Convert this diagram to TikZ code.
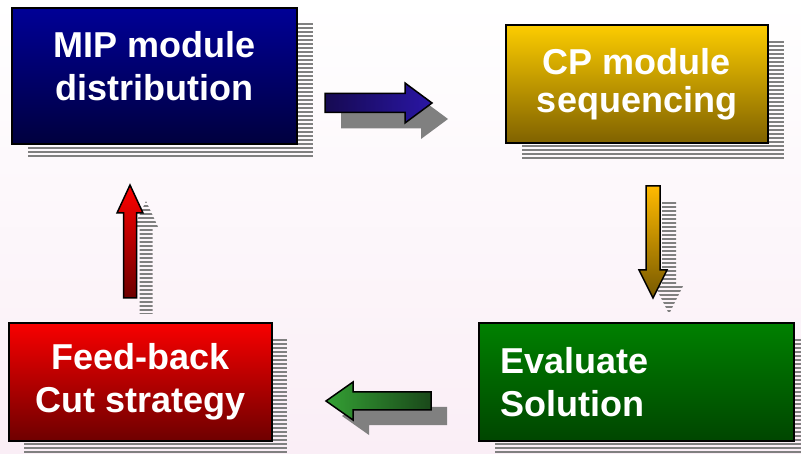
\documentclass[tikz,border=0pt]{standalone}
\usepackage{fontspec}
\setmainfont{Liberation Sans}
\usepackage{xcolor}

\definecolor{bgpink}{RGB}{250,238,246}
\definecolor{shgray}{RGB}{128,128,128}
\definecolor{bluetop}{RGB}{0,0,150}
\definecolor{bluebot}{RGB}{0,0,62}
\definecolor{yeltop}{RGB}{252,204,0}
\definecolor{yelbot}{RGB}{128,98,0}
\definecolor{grntop}{RGB}{0,128,0}
\definecolor{grnbot}{RGB}{0,70,0}
\definecolor{redtop}{RGB}{248,0,0}
\definecolor{redbot}{RGB}{110,0,0}

% horizontal gray stripes from x=#1 to #2, y=#3 to #4
\newcommand{\garisan}[4]{\foreach \gy in {#3,\numexpr#3+4\relax,...,#4} \draw[shgray, line width=2.4pt] (#1,\gy+1.2) -- (#2,\gy+1.2);}

\tikzset{
    modul/.style={draw=black, line width=1.5pt, inner sep=0pt, text=white,
        font=\fontsize{36}{43}\selectfont\bfseries, align=center},
    bayang/.style={fill=shgray},
    panah/.style={draw=black, line width=1.5pt, line join=miter}
}

\begin{document}
\begin{tikzpicture}[x=1pt, y=-1pt]
        %LATAR
        \useasboundingbox (0,0) rectangle (801,454);
        \shade[top color=white, bottom color=bgpink] (0,0) rectangle (801,454);
        %BAYANGAN KOTAK
        \begin{scope}
            \clip (28,23) rectangle (313,159);
            \garisan{28}{313}{23}{159}
        \end{scope}
        \begin{scope}
            \clip (522,41) rectangle (784,159);
            \garisan{522}{784}{41}{159}
        \end{scope}
        \begin{scope}
            \clip (495,339) rectangle (801,453);
            \garisan{495}{801}{339}{453}
        \end{scope}
        \begin{scope}
            \clip (24,339) rectangle (287,453);
            \garisan{24}{287}{339}{453}
        \end{scope}
        %KOTAK
        \node[modul, top color=bluetop, bottom color=bluebot, minimum width=285pt, minimum height=136pt] (mip) at (154.5,76) {MIP module\\distribution\\[-23pt]\mbox{}};
        \node[modul, top color=yeltop, bottom color=yelbot, minimum width=262pt, minimum height=118pt] (cp) at (637,84) {CP module\\[-5pt]sequencing};
        \node[modul, top color=grntop, bottom color=grnbot, minimum width=315pt, minimum height=118pt, text width=273pt, align=left] (eval) at (636.5,382) {Evaluate\\Solution};
        \node[modul, top color=redtop, bottom color=redbot, minimum width=263pt, minimum height=118pt] (cut) at (140.5,382) {Feed-back\\Cut strategy};
        %PANAH KANAN
        \fill[bayang, shift={(16,16)}] (325,93.5) -- (405,93.5) -- (405,83) -- (432,103) -- (405,123) -- (405,112.5) -- (325,112.5) -- cycle;
        \draw[panah, left color={rgb,255:red,22;green,10;blue,82}, right color={rgb,255:red,42;green,22;blue,165}] (325,93.5) -- (405,93.5) -- (405,83) -- (432,103) -- (405,123) -- (405,112.5) -- (325,112.5) -- cycle;
        %PANAH BAWAH
        \begin{scope}
            \clip (662,202) -- (676,202) -- (676,286) -- (683,286) -- (669,314) -- (655,286) -- (662,286) -- cycle;
            \garisan{650}{690}{202}{314}
        \end{scope}
        \draw[panah, top color={rgb,255:red,255;green,186;blue,0}, bottom color={rgb,255:red,118;green,88;blue,0}] (646,186) -- (660,186) -- (660,270) -- (667,270) -- (653,298) -- (639,270) -- (646,270) -- cycle;
        %PANAH KIRI
        \fill[bayang, shift={(16,15)}] (431,392) -- (353,392) -- (353,382) -- (326,401) -- (353,420) -- (353,410) -- (431,410) -- cycle;
        \draw[panah, left color={rgb,255:red,52;green,160;blue,52}, right color={rgb,255:red,26;green,72;blue,26}] (431,392) -- (353,392) -- (353,382) -- (326,401) -- (353,420) -- (353,410) -- (431,410) -- cycle;
        %PANAH ATAS
        \begin{scope}
            \clip (139.5,314) -- (139.5,229) -- (133,229) -- (146,201) -- (159,229) -- (152.5,229) -- (152.5,314) -- cycle;
            \garisan{130}{165}{201}{314}
        \end{scope}
        \draw[panah, top color={rgb,255:red,255;green,0;blue,0}, bottom color={rgb,255:red,108;green,0;blue,0}] (123.5,298) -- (123.5,213) -- (117,213) -- (130,185) -- (143,213) -- (136.5,213) -- (136.5,298) -- cycle;
    \end{tikzpicture}
\end{document}
